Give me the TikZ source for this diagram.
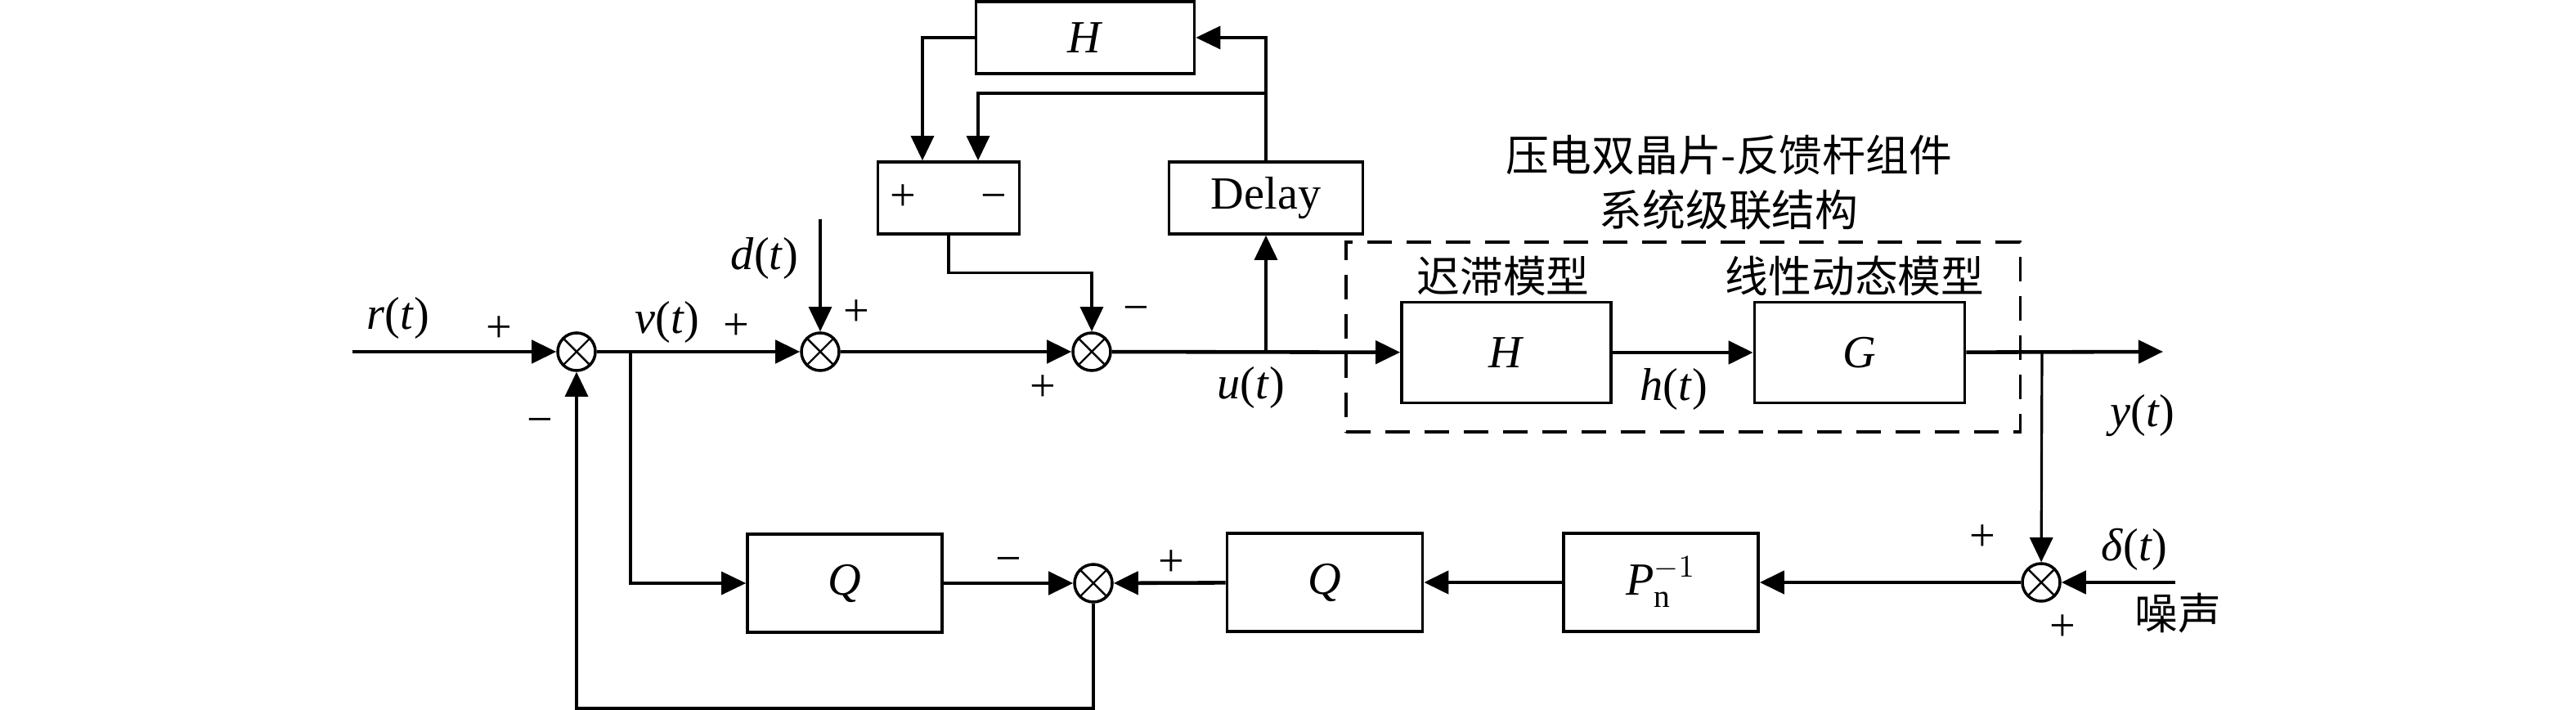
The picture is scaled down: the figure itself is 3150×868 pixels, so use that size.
\documentclass[tikz,border=0pt]{standalone}
\usepackage{fontspec}
\setmainfont{Liberation Serif}
\newfontfamily\cjk{Noto Sans CJK SC}
\usetikzlibrary{arrows.meta, positioning}
\newcommand{\sgn}[1]{\textit{#1}(\textit{t})}

\begin{document}
\begin{tikzpicture}[
		x=0.01cm, y=-0.01cm,
		font=\fontsize{16}{19}\selectfont,
		block/.style={rectangle, draw, line width=1pt, inner sep=0pt, minimum width=2.38cm, minimum height=1.2cm},
		small block/.style={block, minimum height=0.88cm},
		sum/.style={circle, draw, line width=1pt, inner sep=0pt, minimum size=0.46cm,
			path picture={\draw [line width=0.7pt] (path picture bounding box.north west) -- (path picture bounding box.south east)
				(path picture bounding box.south west) -- (path picture bounding box.north east);}},
		sig/.style={line width=0.9pt, -{Triangle[length=0.3cm, width=0.28cm]}},
		main/.style={sig, line width=1.3pt},
		wire/.style={line width=0.9pt},
		tag/.style={inner sep=0pt},
		group/.style={draw, line width=1pt, dash pattern=on 0.3cm off 0.18cm, minimum width=8.24cm, minimum height=2.32cm}
		]
		\useasboundingbox (0,0) rectangle (3150,868);

		% forward path
		\coordinate (in) at (431,430);
		\node [sum] (s1) at (705,430) {};
		\node [sum] (s2) at (1003,430) {};
		\node [sum] (s3) at (1335,430) {};
		\node [group] (piezo) at (2058,412) {};
		\node [block, minimum width=2.56cm, minimum height=1.23cm] (hyst) at (1842,431) {\textit{H}};
		\node [block, minimum width=2.57cm, minimum height=1.23cm] (lin) at (2274,431) {\textit{G}};
		\coordinate (out) at (2645,430);

		% compensation loop
		\node [small block, minimum width=1.73cm] (pm) at (1160,242) {+\hspace{0.8cm}−};
		\node [small block, minimum width=2.37cm] (delay) at (1548,242) {Delay};
		\node [small block, minimum width=2.67cm] (htop) at (1327,46) {\textit{H}};

		% observer loop
		\node [sum] (s5) at (2496,712) {};
		\node [block] (pinv) at (2031,712) {\textit{P}$_{\mathrm{n}}^{-1}$};
		\node [block, minimum width=2.39cm] (q2) at (1620,712) {\textit{Q}};
		\node [sum] (s4) at (1337,713) {};
		\node [block] (q1) at (1033,713) {\textit{Q}};

		\coordinate (vb) at (771,430);
		\coordinate (ub) at (1548,430);
		\coordinate (hb) at (1548,114);
		\coordinate (yb) at (2497,430);
		\coordinate (din) at (1003,268);
		\coordinate (nin) at (2660,712);

		\draw [main] (in) -- (s1);
		\draw [main] (s1) -- (s2);
		\draw [main] (s2) -- (s3);
		\draw [main] (s3) -- (hyst);
		\draw [main] (hyst) -- (lin);
		\draw [main] (lin) -- (out);

		\draw [sig] (ub) -- (delay);
		\draw [sig] (delay.north) |- (htop);
		\draw [sig] (hb) -| ([xshift=0.36cm]pm.north);
		\draw [sig] (htop.west) -| ([xshift=-0.32cm]pm.north);
		\draw [sig] (pm.south) -- ++(0,46) -| (s3);
		\draw [sig] (din) -- (s2);

		\draw [sig] (yb) -- (s5);
		\draw [main] (nin) -- (s5);
		\draw [main] (s5) -- (pinv);
		\draw [main] (pinv) -- (q2);
		\draw [main] (q2) -- (s4);
		\draw [main] (q1) -- (s4);
		\draw [sig] (vb) |- (q1);
		\draw [sig] (s4) -- ++(0,153) -| (s1);

		% labels
		\node [tag] (lr) at (487,389) {\sgn{r}};
		\node [tag] (lv) at (816,394) {\sgn{v}};
		\node [tag] (ld) at (935,316) {\sgn{d}};
		\node [tag] (lu) at (1530,474) {\sgn{u}};
		\node [tag] (lh) at (2047,476) {\sgn{h}};
		\node [tag] (ly) at (2620,508) {\sgn{y}};
		\node [tag] (ldelta) at (2610,672) {\sgn{δ}};
		\node [tag] (lnoise) at (2663,750) {\cjk\fontsize{15}{18}\selectfont 噪声};
		\node [tag, align=center] (ltitle) at (2114,223) {\cjk\fontsize{15}{19}\selectfont 压电双晶片-反馈杆组件\\ \cjk\fontsize{15}{19}\selectfont 系统级联结构};
		\node [tag] (lhyst) at (1838,337) {\cjk\fontsize{15}{18}\selectfont 迟滞模型};
		\node [tag] (llin) at (2268,337) {\cjk\fontsize{15}{18}\selectfont 线性动态模型};

		% signs
		\node [tag] (p1) at (610,403) {+};
		\node [tag] (m1) at (660,521) {−};
		\node [tag] (p2) at (900,400) {+};
		\node [tag] (p3) at (1047,383) {+};
		\node [tag] (m3) at (1389,384) {−};
		\node [tag] (p4) at (1275,475) {+};
		\node [tag] (m4) at (1233,691) {−};
		\node [tag] (p5) at (1432,689) {+};
		\node [tag] (p6) at (2424,658) {+};
		\node [tag] (p7) at (2522,768) {+};
	\end{tikzpicture}
\end{document}
